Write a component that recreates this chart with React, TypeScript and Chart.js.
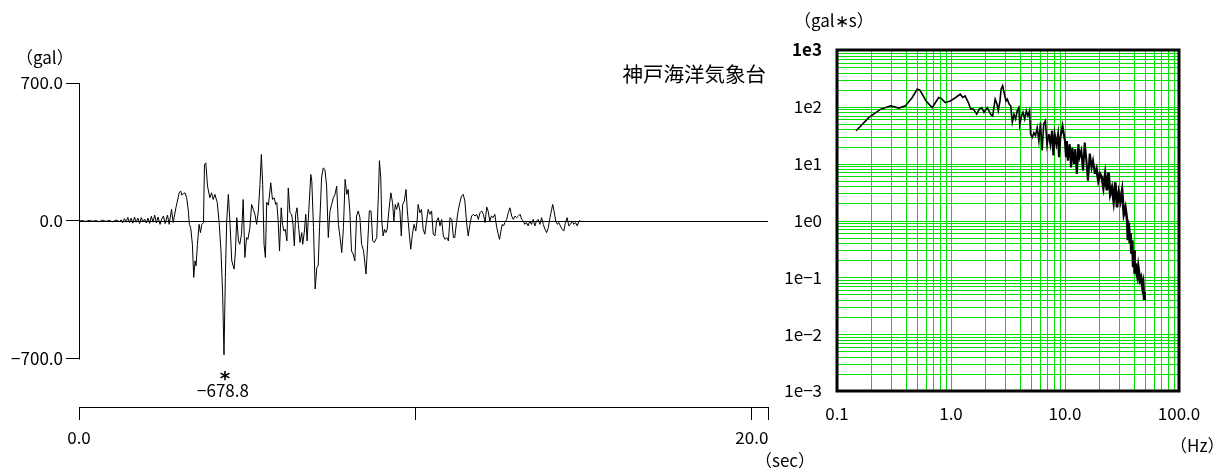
import React, { useEffect, useRef } from "react";
import { Chart, registerables } from "chart.js";

Chart.register(...registerables);

const FONT = '"Noto Sans CJK JP", "Liberation Sans", sans-serif';

// ---------- Left panel: acceleration time history ----------
const stationName = "神戸海洋気象台";
const accelUnit = "（gal）";
const timeUnit = "（sec）";

const timeSec = [
  0, 0.1, 0.2, 0.3, 0.4, 0.5, 0.6, 0.7, 0.8, 0.9,
  1.0, 1.1, 1.2, 1.25, 1.3, 1.35, 1.4, 1.45, 1.5, 1.55,
  1.6, 1.65, 1.7, 1.75, 1.8, 1.85, 1.9, 1.95, 2.0, 2.05,
  2.1, 2.15, 2.2, 2.25, 2.3, 2.35,
  2.41, 2.46, 2.51, 2.56, 2.63, 2.68, 2.75, 2.80, 2.88, 2.98,
  3.02, 3.06, 3.10, 3.15, 3.20, 3.25, 3.28, 3.32, 3.37, 3.41,
  3.45, 3.48, 3.52, 3.57, 3.61, 3.65, 3.70, 3.73, 3.77, 3.82,
  3.89, 3.94, 3.99, 4.04, 4.11, 4.17, 4.22, 4.27, 4.31, 4.35,
  4.39, 4.44, 4.49, 4.54, 4.61, 4.65, 4.69, 4.74, 4.78, 4.83,
  4.88, 4.93, 4.98, 5.02, 5.08, 5.13, 5.18, 5.23, 5.28, 5.33,
  5.38, 5.42, 5.46, 5.50, 5.54, 5.58, 5.63,
  5.70, 5.75, 5.80, 5.85, 5.88, 5.92, 5.96, 6.01, 6.05, 6.09,
  6.13, 6.18, 6.22, 6.27, 6.32, 6.36, 6.40, 6.44, 6.48, 6.52,
  6.57, 6.62, 6.65, 6.70, 6.74, 6.78, 6.83, 6.89, 6.92, 6.97,
  7.02, 7.07, 7.11, 7.15, 7.21, 7.26, 7.31, 7.36, 7.41, 7.46,
  7.51, 7.56, 7.61, 7.66, 7.71, 7.76, 7.81, 7.86, 7.91, 7.96,
  8.00, 8.05, 8.10, 8.15, 8.20, 8.25, 8.30, 8.35, 8.40, 8.46,
  8.53, 8.58, 8.63, 8.68, 8.73, 8.78,
  8.85, 8.90, 8.93, 8.97, 9.00, 9.04, 9.08, 9.12, 9.16, 9.21,
  9.27, 9.32, 9.36, 9.40, 9.44, 9.49, 9.54, 9.58, 9.62, 9.67,
  9.72, 9.76, 9.81, 9.86, 9.91, 9.96, 10.01, 10.05, 10.08, 10.13,
  10.18, 10.23, 10.28, 10.33, 10.38, 10.43, 10.48, 10.53, 10.58, 10.63,
  10.68, 10.73, 10.78, 10.83, 10.88, 10.93, 10.98, 11.03, 11.08, 11.13,
  11.17, 11.22, 11.27, 11.32, 11.37, 11.42, 11.47, 11.52, 11.57, 11.62,
  11.67, 11.72, 11.77, 11.82,
  11.87, 11.92, 11.97, 12.02, 12.07, 12.12, 12.16, 12.21, 12.26, 12.31,
  12.36, 12.41, 12.46, 12.50, 12.54, 12.58, 12.62, 12.66, 12.71, 12.76,
  12.81, 12.86, 12.91, 12.96, 13.01, 13.06, 13.11, 13.16, 13.21, 13.25,
  13.30, 13.35, 13.40, 13.45, 13.50, 13.55, 13.60, 13.65, 13.70, 13.75,
  13.80, 13.85, 13.90, 13.95, 14.00, 14.05, 14.08, 14.12, 14.17, 14.22,
  14.26, 14.31, 14.36, 14.41, 14.46, 14.51, 14.56, 14.61, 14.66, 14.71,
  14.76, 14.81, 14.86, 14.90,
];

const accelGal = [
  0, 2, -2, 3, -1, 2, -3, 4, -2, 3,
  -4, 5, -3, 6, -9, 12, -6, 18, -8, 14,
  -11, 20, -6, 15, -13, 17, -4, 9, -10, 14,
  -12, 24, -6, 30, -9, 20,
  -17, 10, 25, -13, 30, -17, 59, -8, 67, 143,
  152, 131, 138, 143, 118, 51, -17, -34, -118, -286,
  -202, -227, -118, -17, -59, -17, -8, 286, 295, 177,
  118, 143, 109, 135, 93, -17, -152, -370, -678.8, -286,
  0, 135, -17, -202, -244, -152, 17, -101, -118, -67,
  109, -185, -84, -93, -34, 84, 59, 34, -17, 51,
  185, 337, 185, -118, -185, 95, 80,
  194, 109, 118, 84, 93, 0, -152, 67, -17, -51,
  -42, -101, 168, 42, 34, -17, -126, 34, 67, -17,
  -109, -59, -118, -51, 34, -101, 51, 236, 202, -34,
  -345, -236, -227, -34, 219, 269, 261, 177, -84, 51,
  84, 118, 135, 177, -17, -84, -160, -34, 211, 135,
  160, 51, -152, -168, -202, 25, 51, 17, -118, -152,
  -269, -118, 51, 51, -101, -109,
  -84, 135, 306, 219, 0, -76, -42, -59, -42, 51,
  143, 93, 0, 84, 59, 93, 51, -76, 84, 101,
  160, 51, -51, -143, -67, -17, -51, 0, 84, 42,
  59, -42, -67, 0, 59, 34, 51, -67, -76, 0,
  17, -25, 8, -76, -93, -84, -101, 17, 8, -84,
  -84, -8, 51, 93, 126, 135, 101, -8, -76, -17,
  25, 34, 25, 34,
  8, 42, 51, 34, -8, 71, 51, 0, 25, 17,
  34, -25, -67, -93, -51, -17, -25, -8, 8, 42,
  67, 25, 8, 25, 17, 25, 34, 8, 0, -17,
  -8, -25, 0, -17, 8, -25, 0, 8, -17, 17,
  -17, -42, -59, -34, 17, 59, 84, 51, 0, -17,
  -8, -25, -42, -51, -8, 17, -25, -17, 0, -17,
  -8, -25, 0, 3,
];

const accelTickValues = [700, 0, -700];
const accelTickLabels = ["700.0", "0.0", "−700.0"];
const timeTickValues = [0, 10, 20, 20.48];
const timeTickLabels = ["0.0", "", "20.0", ""];
const TIME_MAX = 20.48;
const ACCEL_MAX = 700;
const ACCEL_AXIS_MIN = -943.5;

// ---------- Right panel: Fourier spectrum ----------
const spectrumUnit = "（gal∗s）";
const freqUnit = "（Hz）";

const freqHz = [
  0.147, 0.191, 0.242, 0.296, 0.349, 0.399, 0.457, 0.505, 0.532, 0.605,
  0.683, 0.780, 0.822, 0.892, 0.986, 1.10, 1.205, 1.27, 1.33, 1.42,
  1.49, 1.57, 1.68, 1.77, 1.86, 1.95, 2.08, 2.23, 2.32, 2.44,
  2.53, 2.60, 2.69, 2.75, 2.84, 2.94, 3.04, 3.12, 3.23, 3.34,
  3.45, 3.57, 3.69, 3.81, 3.94, 4.01, 4.15, 4.28, 4.43, 4.58,
  4.73, 4.89, 4.99, 5.16, 5.33, 5.51, 5.70, 5.90, 6.09, 6.30,
  6.51, 6.73, 6.96, 7.20, 7.45, 7.70, 7.91, 8.12, 8.40, 8.69,
  8.86, 9.11, 9.51, 9.76, 10.0, 10.2, 10.4, 10.6, 11.0, 11.3,
  11.6, 12.0, 12.3, 12.7, 13.1, 13.4, 13.9, 14.4, 14.9, 15.4,
  15.9, 16.5, 17.1, 17.6, 18.3, 18.9, 19.6, 20.3, 21.0, 21.7,
  22.5, 23.3, 24.1, 24.9, 25.8, 26.7, 27.6, 28.6, 29.6, 30.6,
  31.7, 32.8, 33.9, 35.1, 35.6, 36.3, 37.0, 37.6, 38.2, 38.9,
  39.6, 40.3, 40.8, 41.7, 42.3, 43.2, 44.0, 45.5, 46.5, 47.7,
  48.5, 49.4, 50.0,
];

const fourierAmp = [
  38, 65, 91, 104, 95, 104, 146, 204, 199, 127,
  97, 146, 141, 119, 127, 146, 167, 146, 156, 119,
  91, 91, 74, 91, 97, 80, 97, 74, 69, 136,
  112, 85, 127, 204, 234, 167, 127, 136, 112, 104,
  53, 74, 61, 85, 97, 48, 69, 80, 61, 85,
  69, 85, 33, 29, 35, 31, 43, 25, 53, 17,
  50, 57, 21, 33, 22, 38, 14, 33, 22, 33,
  13, 29, 46, 33, 25, 13, 25, 11.3, 22, 8.6,
  19, 9.9, 18, 6.6, 22, 13, 17, 7.5, 23.6, 11.3,
  5.0, 15, 8.6, 11.3, 6.6, 8.1, 5.0, 6.6, 5.8, 3.8,
  6.6, 3.4, 7.0, 2.9, 3.8, 2.2, 4.7, 1.7, 3.1, 2.2,
  3.4, 1.3, 1.7, 1.0, 0.45, 0.9, 0.4, 0.6, 0.26, 0.45,
  0.15, 0.3, 0.116, 0.177, 0.12, 0.1, 0.15, 0.089, 0.1, 0.068,
  0.08, 0.042, 0.055,
];

const freqDecades = [0.1, 1, 10, 100];
const freqDecadeLabels = ["0.1", "1.0", "10.0", "100.0"];
const ampDecades = [1e-3, 1e-2, 1e-1, 1, 10, 100, 1000];
const ampDecadeLabels = ["1e−3", "1e−2", "1e−1", "1e0", "1e1", "1e2", "1e3"];

// ---------- helpers ----------
function logTicks(decades: number[]) {
  const out: number[] = [];
  for (let i = 0; i < decades.length - 1; i++) {
    for (let k = 1; k <= 9; k++) out.push(k * decades[i]);
  }
  out.push(decades[decades.length - 1]);
  return out;
}

function decadeLabel(v: number, decades: number[], labels: string[]) {
  for (let i = 0; i < decades.length; i++) {
    if (Math.abs(Math.log10(v) - Math.log10(decades[i])) < 1e-6) return labels[i];
  }
  return "";
}

const LEFT_W = 820;
const RIGHT_X = 780;
const RIGHT_W = 1232 - RIGHT_X;
const H = 473;
const GRID_GREEN = "rgb(0,225,0)";
const NUM_SIZE = 17;

const waveDecor = {
  id: "waveDecor",
  beforeDatasetsDraw(chart: any) {
    const { ctx, scales } = chart;
    const x = scales.x;
    const y = scales.y;
    ctx.save();
    ctx.strokeStyle = "#000";
    ctx.lineWidth = 1;
    const ax = Math.round(x.getPixelForValue(0)) + 0.5;
    ctx.beginPath();
    ctx.moveTo(ax, y.getPixelForValue(accelTickValues[0]));
    ctx.lineTo(ax, y.getPixelForValue(accelTickValues[2]) + 0.5);
    ctx.stroke();
    const zy = Math.round(y.getPixelForValue(0)) + 0.5;
    ctx.beginPath();
    ctx.moveTo(x.getPixelForValue(0), zy);
    ctx.lineTo(x.getPixelForValue(TIME_MAX), zy);
    ctx.stroke();
    ctx.restore();
  },
  afterDraw(chart: any) {
    const { ctx, scales } = chart;
    const x = scales.x;
    const y = scales.y;
    ctx.save();
    ctx.fillStyle = "#000";
    ctx.textBaseline = "middle";
    ctx.font = `17px ${FONT}`;
    ctx.textAlign = "left";
    ctx.fillText(accelUnit, 16, 58);
    ctx.fillText(timeUnit, 755, 461);
    ctx.font = `20.5px ${FONT}`;
    ctx.textAlign = "right";
    ctx.fillText(stationName, 766, 74);
    // peak annotation
    let iMin = 0;
    for (let i = 1; i < accelGal.length; i++) if (accelGal[i] < accelGal[iMin]) iMin = i;
    const px = x.getPixelForValue(timeSec[iMin]);
    const py = y.getPixelForValue(accelGal[iMin]);
    ctx.textAlign = "center";
    ctx.font = `bold 20px "DejaVu Sans", sans-serif`;
    ctx.fillText("*", px + 1, py + 25);
    ctx.font = `${NUM_SIZE}px ${FONT}`;
    const v = accelGal[iMin];
    ctx.fillText((v < 0 ? "−" : "") + Math.abs(v).toFixed(1), px - 1, py + 36);
    ctx.restore();
  },
};

const spectrumDecor = {
  id: "spectrumDecor",
  beforeDatasetsDraw(chart: any) {
    const { ctx, chartArea, scales } = chart;
    const x = scales.x;
    const y = scales.y;
    ctx.save();
    ctx.fillStyle = GRID_GREEN;
    const w = chartArea.right - chartArea.left;
    const h = chartArea.bottom - chartArea.top;
    for (const t of x.ticks) {
      const px = Math.round(x.getPixelForValue(t.value));
      ctx.fillRect(px, chartArea.top, 1, h);
    }
    for (const t of y.ticks) {
      const py = Math.round(y.getPixelForValue(t.value));
      ctx.fillRect(chartArea.left, py, w, 1);
    }
    ctx.restore();
  },
  afterDraw(chart: any) {
    const { ctx, chartArea } = chart;
    ctx.save();
    ctx.strokeStyle = "#000";
    ctx.lineWidth = 3;
    ctx.strokeRect(
      chartArea.left,
      chartArea.top,
      chartArea.right - chartArea.left,
      chartArea.bottom - chartArea.top
    );
    ctx.fillStyle = "#000";
    ctx.textBaseline = "middle";
    ctx.textAlign = "left";
    ctx.font = `17px ${FONT}`;
    ctx.fillText(spectrumUnit, 803 - RIGHT_X - 9, 21);
    ctx.fillText(freqUnit, 1180 - RIGHT_X - 10, 446);
    ctx.restore();
  },
};

export default function App() {
  const leftRef = useRef<HTMLCanvasElement | null>(null);
  const rightRef = useRef<HTMLCanvasElement | null>(null);

  useEffect(() => {
    if (!leftRef.current || !rightRef.current) return;
    const tickFont = { family: FONT, size: NUM_SIZE };

    const left = new Chart(leftRef.current, {
      type: "line",
      data: {
        datasets: [
          {
            data: timeSec.map((t, i) => ({ x: t, y: accelGal[i] })),
            borderColor: "#000",
            borderWidth: 1,
            pointRadius: 0,
            tension: 0,
            fill: false,
          },
        ],
      },
      options: {
        animation: false,
        responsive: false,
        maintainAspectRatio: false,
        events: [],
        layout: { padding: { left: 0, top: 83, right: LEFT_W - 768, bottom: 0 } },
        plugins: { legend: { display: false }, tooltip: { enabled: false }, title: { display: false } },
        scales: {
          x: {
            type: "linear",
            min: 0,
            max: TIME_MAX,
            position: "bottom",
            afterBuildTicks: (s: any) => {
              s.ticks = timeTickValues.map((v) => ({ value: v }));
            },
            afterFit: (s: any) => {
              s.height = H - 407;
            },
            border: { display: true, color: "#000", width: 1 },
            grid: { drawOnChartArea: false, drawTicks: true, tickLength: 13, color: "#000", lineWidth: 1 },
            ticks: {
              autoSkip: false,
              maxRotation: 0,
              padding: 7,
              color: "#000",
              font: tickFont,
              callback: (v: any) => {
                const i = timeTickValues.findIndex((t) => Math.abs(t - Number(v)) < 1e-6);
                return i >= 0 ? timeTickLabels[i] : "";
              },
            },
          },
          y: {
            type: "linear",
            min: ACCEL_AXIS_MIN,
            max: ACCEL_MAX,
            afterBuildTicks: (s: any) => {
              s.ticks = accelTickValues.map((v) => ({ value: v }));
            },
            afterFit: (s: any) => {
              s.width = 79;
            },
            border: { display: false },
            grid: { drawOnChartArea: false, drawTicks: true, tickLength: 13, color: "#000", lineWidth: 1 },
            ticks: {
              autoSkip: false,
              padding: 3,
              color: "#000",
              font: tickFont,
              callback: (v: any) => {
                const i = accelTickValues.findIndex((t) => Math.abs(t - Number(v)) < 1e-6);
                return i >= 0 ? accelTickLabels[i] : "";
              },
            },
          },
        },
      },
      plugins: [waveDecor],
    } as any);

    const right = new Chart(rightRef.current, {
      type: "line",
      data: {
        datasets: [
          {
            data: freqHz.map((f, i) => ({ x: f, y: fourierAmp[i] })),
            borderColor: "#000",
            borderWidth: 1.6,
            pointRadius: 0,
            tension: 0,
            fill: false,
            segment: {
              borderWidth: (c: any) => (c.p0.parsed.x > 18 ? 2.6 : c.p0.parsed.x > 7 ? 2.1 : 1.6),
            },
          },
        ],
      },
      options: {
        animation: false,
        responsive: false,
        maintainAspectRatio: false,
        events: [],
        layout: { padding: { left: 0, top: 50, right: RIGHT_W - (1179 - RIGHT_X), bottom: 0 } },
        plugins: { legend: { display: false }, tooltip: { enabled: false }, title: { display: false } },
        scales: {
          x: {
            type: "logarithmic",
            min: freqDecades[0],
            max: freqDecades[freqDecades.length - 1],
            afterBuildTicks: (s: any) => {
              s.ticks = logTicks(freqDecades).map((v) => ({ value: v }));
            },
            afterFit: (s: any) => {
              s.height = H - 391;
            },
            border: { display: false },
            grid: { display: false, drawTicks: false },
            ticks: {
              autoSkip: false,
              maxRotation: 0,
              padding: 12,
              color: "#000",
              font: tickFont,
              callback: (v: any) => decadeLabel(Number(v), freqDecades, freqDecadeLabels),
            },
          },
          y: {
            type: "logarithmic",
            min: ampDecades[0],
            max: ampDecades[ampDecades.length - 1],
            afterBuildTicks: (s: any) => {
              s.ticks = logTicks(ampDecades).map((v) => ({ value: v }));
            },
            afterFit: (s: any) => {
              s.width = 837 - RIGHT_X;
            },
            border: { display: false },
            grid: { display: false, drawTicks: false },
            ticks: {
              autoSkip: false,
              padding: 15,
              color: "#000",
              font: (c: any) => ({
                family: FONT,
                size: NUM_SIZE,
                weight: c.tick && Math.abs(c.tick.value - 1000) < 1e-6 ? "bold" : "normal",
              }),
              callback: (v: any) => decadeLabel(Number(v), ampDecades, ampDecadeLabels),
            },
          },
        },
      },
      plugins: [spectrumDecor],
    } as any);

    return () => {
      left.destroy();
      right.destroy();
    };
  }, []);

  return (
    <div style={{ position: "fixed", left: 0, top: 0, width: 1232, height: H, background: "#fff" }}>
      <canvas
        ref={leftRef}
        width={LEFT_W}
        height={H}
        style={{ position: "absolute", left: 0, top: 0, width: LEFT_W, height: H }}
      />
      <canvas
        ref={rightRef}
        width={RIGHT_W}
        height={H}
        style={{ position: "absolute", left: RIGHT_X, top: 0, width: RIGHT_W, height: H }}
      />
    </div>
  );
}
